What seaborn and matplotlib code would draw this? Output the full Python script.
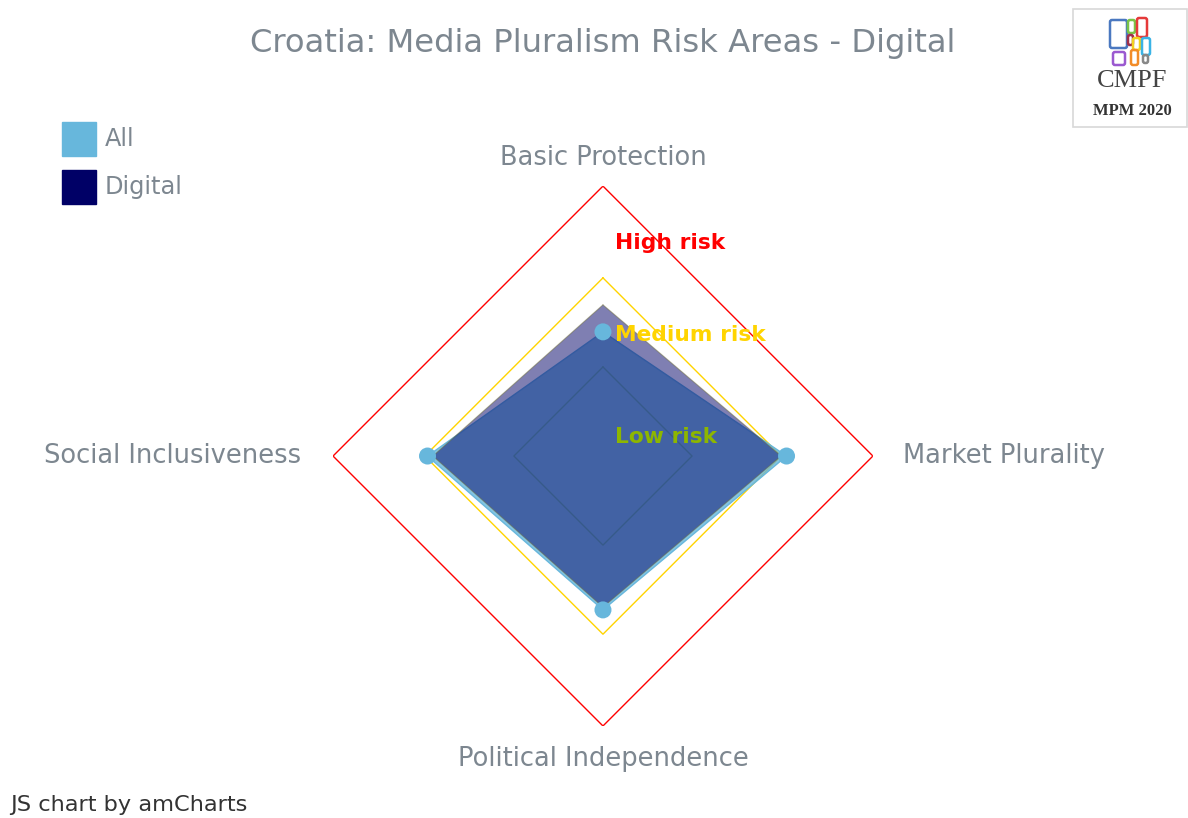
import numpy as np
import pandas as pd
import matplotlib
matplotlib.use("Agg")
import matplotlib.pyplot as plt
import seaborn as sns
from matplotlib.patches import Rectangle, FancyBboxPatch

# -----------------------------
# Data
# -----------------------------
areas = ["Basic Protection", "Market Plurality",
         "Political Independence", "Social Inclusiveness"]
all_values = [46, 68, 57, 65]
digital_values = [56, 66, 56, 63]

risk_levels = [33, 66, 100]
risk_names = ["Low risk", "Medium risk", "High risk"]
risk_colors = ["#8db600", "#ffd400", "#ff0000"]
risk_label_r = [7, 45, 79]

series_names = ["All", "Digital"]
series_colors = ["#67b7dc", "#000066"]

title = "Croatia: Media Pluralism Risk Areas - Digital"
credit = "JS chart by amCharts"

# -----------------------------
# Style
# -----------------------------
sns.set_theme(style="white")
plt.rcParams["font.family"] = ["DejaVu Sans"]
text_gray = "#7d8790"

fig = plt.figure(figsize=(11.88, 8.18), dpi=100)

# radar axes (square box centred on the chart centre)
ax = fig.add_axes([0.5076 - 0.2273, 0.4425 - 0.330, 0.4545, 0.660],
                  projection="polar")
ax.set_theta_offset(np.pi / 2)
ax.set_theta_direction(-1)
ax.set_ylim(0, 100)
ax.grid(False)
ax.spines["polar"].set_visible(False)
ax.patch.set_alpha(0)

theta = np.linspace(0, 2 * np.pi, len(areas), endpoint=False)
theta_closed = np.append(theta, theta[0])

# -----------------------------
# Risk grid diamonds
# -----------------------------
for lvl, col in zip(risk_levels, risk_colors):
    ax.plot(theta_closed, [lvl] * (len(areas) + 1), color=col,
            lw=1.0, zorder=1)

# -----------------------------
# Series
# -----------------------------
all_closed = all_values + all_values[:1]
dig_closed = digital_values + digital_values[:1]

ax.fill(theta_closed, all_closed, color=series_colors[0], alpha=0.8,
        lw=0, zorder=2)
ax.plot(theta_closed, all_closed, color=series_colors[0], lw=1.0,
        zorder=2)
ax.fill(theta_closed, dig_closed, color=series_colors[1], alpha=0.5,
        lw=0, zorder=3)
ax.plot(theta_closed, dig_closed, color="#6b6a3a", lw=0.8,
        alpha=0.5, zorder=3)

dots = pd.DataFrame({"theta": theta, "value": all_values})
sns.scatterplot(data=dots, x="theta", y="value", ax=ax,
                color=series_colors[0], s=150, edgecolor="none",
                zorder=5, legend=False)
ax.set_xlabel("")
ax.set_ylabel("")
ax.set_xticks([])
ax.set_yticks([])

# -----------------------------
# Risk labels
# -----------------------------
for name, col, r in zip(risk_names, risk_colors, risk_label_r):
    ax.annotate(name, xy=(0, r), xytext=(9, 0),
                textcoords="offset points", ha="left", va="center",
                color=col, fontsize=15.7, fontweight="bold", zorder=6)

# -----------------------------
# Axis labels
# -----------------------------
offsets = [(0, 20), (22, 0), (0, -24), (-23, 0)]
aligns = [("center", "center"), ("left", "center"),
          ("center", "center"), ("right", "center")]
for name, t, (dx, dy), (ha, va) in zip(areas, theta, offsets, aligns):
    ax.annotate(name, xy=(t, 100), xytext=(dx, dy),
                textcoords="offset points", ha=ha, va=va,
                color=text_gray, fontsize=18.5, annotation_clip=False)

# -----------------------------
# Title, legend, credit
# -----------------------------
fig.text(0.5072, 0.947, title, ha="center", va="center",
         color=text_gray, fontsize=23.2)

for i, (name, col) in enumerate(zip(series_names, series_colors)):
    y_top = 122 + i * 48
    fig.patches.append(Rectangle((62 / 1188, 1 - (y_top + 34) / 818),
                                 34 / 1188, 34 / 818, color=col,
                                 transform=fig.transFigure))
    fig.text(105 / 1188, 1 - (y_top + 17) / 818, name, ha="left",
             va="center", color=text_gray, fontsize=17.3)

fig.text(10 / 1188, 1 - 805 / 818, credit, ha="left", va="center",
         color="#333333", fontsize=16.2)

# -----------------------------
# CMPF logo box
# -----------------------------
lax = fig.add_axes([1072 / 1188, 1 - 128 / 818, 116 / 1188, 120 / 818])
lax.set_xlim(0, 116)
lax.set_ylim(120, 0)
lax.axis("off")
lax.add_patch(Rectangle((1, 1), 114, 118, fill=False, ec="#d8d8d8",
                        lw=1.2))
logo_boxes = [(38, 12, 17, 28, "#4a78c0"), (56, 12, 7, 13, "#79c447"),
              (65, 10, 10, 19, "#e53a3a"), (56, 27, 5, 10, "#a0304a"),
              (61, 30, 7, 12, "#f2d21e"), (70, 30, 8, 17, "#3ab3e6"),
              (41, 44, 12, 13, "#9b59d0"), (59, 42, 7, 15, "#f28c28"),
              (71, 47, 5, 8, "#888888")]
for x0, y0, w, h, col in logo_boxes:
    lax.add_patch(FancyBboxPatch((x0, y0), w, h,
                                 boxstyle="round,pad=0,rounding_size=2",
                                 fill=False, ec=col, lw=1.8))
lax.text(60, 73, "CMPF", ha="center", va="center", color="#444444",
         fontsize=19, family="Liberation Serif")
lax.text(60, 103, "MPM 2020", ha="center", va="center", color="#333333",
         fontsize=12, fontweight="bold", family="Liberation Serif")

fig.savefig("out.png", dpi=100)
plt.close(fig)
